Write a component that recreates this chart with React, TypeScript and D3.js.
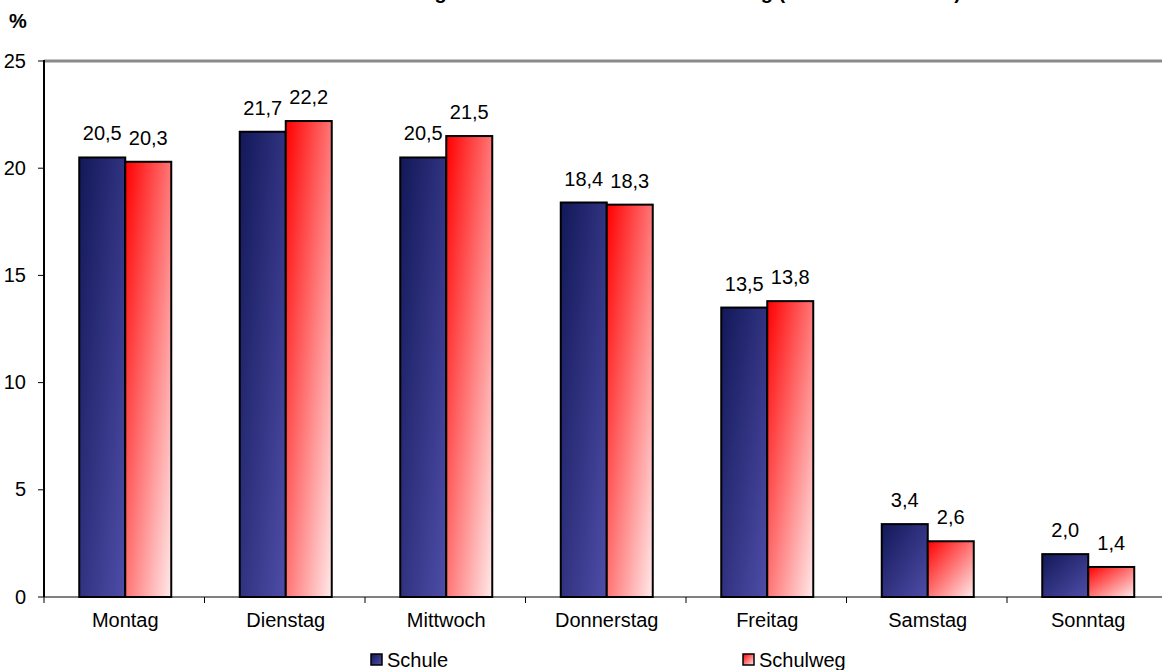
import React from "react";
import * as d3 from "d3";

const categories = ["Montag", "Dienstag", "Mittwoch", "Donnerstag", "Freitag", "Samstag", "Sonntag"];
const schule = [20.5, 21.7, 20.5, 18.4, 13.5, 3.4, 2.0];
const schulweg = [20.3, 22.2, 21.5, 18.3, 13.8, 2.6, 1.4];
const seriesNames = ["Schule", "Schulweg"];
const yTicks = [0, 5, 10, 15, 20, 25];
const titleText = "Verteilung der Schulunfälle nach Wochentag (Anteile in Prozent)";

const W = 1162;
const H = 670;
const left = 44;
const top = 61;
const bottom = 597;
const font = "Arial, 'Liberation Sans', sans-serif";

export default function App() {
  const x = d3.scaleBand<string>().domain(categories).range([left + 1, left + 1 + 7 * 160.5]);
  const y = d3.scaleLinear().domain([0, 25]).range([bottom, top]);
  const inner = d3.scaleBand<string>().domain(seriesNames).range([0, 92]);
  const groupOffset = (x.bandwidth() - 92) / 2;
  const fmt = (v: number) => v.toFixed(1).replace(".", ",");
  const series = [
    { name: "Schule", values: schule, fill: "url(#gBlue)" },
    { name: "Schulweg", values: schulweg, fill: "url(#gRed)" },
  ];

  return (
    <svg width={W} height={H} style={{ position: "absolute", left: 0, top: 0, background: "#fff" }} fontFamily={font}>
      <defs>
        <linearGradient id="gBlue" x1="0" y1="0" x2="1" y2="1">
          <stop offset="0" stopColor="#121858" />
          <stop offset="1" stopColor="#4f4da8" />
        </linearGradient>
        <linearGradient id="gRed" x1="0" y1="0" x2="1" y2="1">
          <stop offset="0" stopColor="#ff0000" />
          <stop offset="1" stopColor="#ffeaea" />
        </linearGradient>
      </defs>

      <text x={350} y={-1} fontSize={20} fontWeight="bold" fill="#000">{titleText}</text>
      <text x={9} y={28} fontSize={20} fontWeight="bold" fill="#000">%</text>

      {/* plot area top border */}
      <line x1={left} x2={W} y1={top} y2={top} stroke="#8a8a8a" strokeWidth={3} />

      {/* y axis */}
      {yTicks.map((t) => (
        <g key={t}>
          <line x1={left - 6} x2={left} y1={y(t)} y2={y(t)} stroke="#000" strokeWidth={1} />
          <text x={26} y={y(t) + 6.5} textAnchor="end" fontSize={20} fill="#000">{t}</text>
        </g>
      ))}

      {/* bars */}
      {series.map((s) =>
        categories.map((c, i) => {
          const bx = (x(c) as number) + groupOffset + (inner(s.name) as number);
          const by = y(s.values[i]);
          return (
            <g key={s.name + c}>
              <rect x={bx} y={by} width={inner.bandwidth()} height={bottom - by} fill={s.fill} stroke="#000" strokeWidth={2} />
              <text x={bx + inner.bandwidth() / 2} y={by - 17} textAnchor="middle" fontSize={20} fill="#000">{fmt(s.values[i])}</text>
            </g>
          );
        })
      )}

      {/* x axis */}
      <line x1={left} x2={W} y1={bottom} y2={bottom} stroke="#000" strokeWidth={1} />
      {categories.map((c) => (
        <g key={c}>
          <line x1={(x(c) as number) - 1} x2={(x(c) as number) - 1} y1={bottom} y2={bottom + 6} stroke="#000" strokeWidth={1} />
          <text x={(x(c) as number) + x.bandwidth() / 2} y={627} textAnchor="middle" fontSize={20} fill="#000">{c}</text>
        </g>
      ))}
      <line x1={left} x2={left} y1={top - 1} y2={bottom} stroke="#000" strokeWidth={2} />

      {/* legend */}
      {series.map((s, i) => {
        const lx = i === 0 ? 371 : 743;
        return (
          <g key={s.name}>
            <rect x={lx} y={654} width={11} height={11} fill={s.fill} stroke="#000" strokeWidth={1.5} />
            <text x={lx + 16} y={667} fontSize={20} fill="#000">{s.name}</text>
          </g>
        );
      })}
    </svg>
  );
}
